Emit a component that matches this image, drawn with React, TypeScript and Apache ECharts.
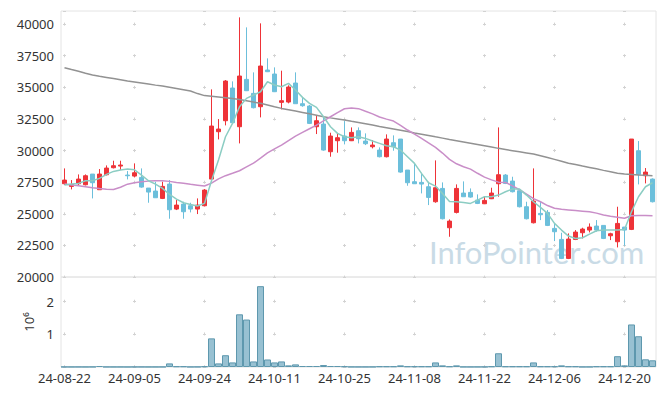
import React, { useEffect, useRef } from "react";
import * as echarts from "echarts";

const dates = [
  "24-08-22","24-08-23","24-08-26","24-08-27","24-08-28","24-08-29","24-08-30",
  "24-09-02","24-09-03","24-09-04","24-09-05","24-09-06","24-09-09","24-09-10","24-09-11","24-09-12","24-09-13",
  "24-09-19","24-09-20","24-09-23","24-09-24","24-09-25","24-09-26","24-09-27","24-09-30",
  "24-10-02","24-10-04","24-10-07","24-10-08","24-10-10","24-10-11","24-10-14","24-10-15","24-10-16","24-10-17","24-10-18",
  "24-10-21","24-10-22","24-10-23","24-10-24","24-10-25","24-10-28","24-10-29","24-10-30","24-10-31",
  "24-11-01","24-11-04","24-11-05","24-11-06","24-11-07","24-11-08","24-11-11","24-11-12","24-11-13","24-11-14","24-11-15",
  "24-11-18","24-11-19","24-11-20","24-11-21","24-11-22","24-11-25","24-11-26","24-11-27","24-11-28","24-11-29",
  "24-12-02","24-12-03","24-12-04","24-12-05","24-12-06","24-12-09","24-12-10","24-12-11","24-12-12","24-12-13",
  "24-12-16","24-12-17","24-12-18","24-12-19","24-12-20","24-12-23","24-12-24","24-12-26","24-12-27",
];

const opens = [
  27373,27163,27373,27294,28138,26899,28085,28639,28770,28059,27980,27874,27031,26794,26214,27347,25370,25765,25634,25370,
  25634,27742,31486,32355,34939,31881,35624,34517,33463,36362,36046,33806,33832,35334,33700,33516,31881,32092,29904,30774,
  31143,30774,31565,30748,30300,30036,29509,30616,30906,28454,27532,27479,27136,25950,27004,23894,25107,26635,26688,26082,
  25792,26187,27373,28059,27584,26820,25555,24289,25027,25107,23842,22972,21469,22972,23499,23710,24026,24079,23261,22787,
  23947,23763,29983,28006,27742,
];
const closes = [
  27663,27321,27742,28006,27453,28138,28613,28797,28850,28006,28244,27110,26715,26266,27163,25317,25686,25159,25370,25686,
  26873,31934,31697,35493,32197,35888,34728,33384,36678,36230,34649,33937,35018,33700,33542,32145,32355,30036,31143,31011,
  30774,31433,30932,30537,30431,29509,30906,30300,28296,27453,27373,27347,26293,27057,24606,24421,27004,26345,26319,25818,
  26056,26635,28085,27400,26741,25555,24606,26003,24922,24079,23578,21469,23000,23551,23789,23947,23710,23050,23420,24237,
  23710,30906,28111,28296,25950,
];
const lows = [
  27270,26926,27268,27240,26213,26899,28032,28586,28454,27717,27874,27057,25871,26266,26161,24606,25291,24606,25107,24975,
  25581,27663,30879,31987,32144,30563,34702,33331,32619,36204,34623,33252,33727,33700,33463,32092,31301,29983,29509,29825,
  30484,30748,30563,30431,30168,29456,29456,29983,28243,27215,27373,26609,25687,25871,24554,23182,25027,26345,26266,25765,
  25765,26161,26345,27347,26688,25502,24554,24237,24500,24026,22840,21416,21416,22919,23050,23525,23578,22998,22919,22339,
  22471,23710,27321,27400,25897,
];
const highs = [
  28586,27663,28111,28111,28138,28533,28823,29192,29192,28375,28982,28586,27031,27532,27532,27663,26082,25950,25870,26214,
  26952,34833,32487,35571,35466,40527,39736,36178,40053,37285,36573,36310,35150,36178,34148,33595,32724,32672,31406,31354,
  32329,31828,31828,31354,30827,30247,31275,31196,30906,28454,28981,28190,27532,29219,27479,24554,27321,27558,27004,26530,
  26345,27057,31828,28138,27927,26820,25950,28586,25950,25291,24237,23499,23446,23710,23894,24237,24500,24079,23499,25555,
  23947,30906,30748,28613,27795,
];
const volumes = [
  4000,3000,4000,3000,5000,30000,4000,3000,3000,2000,4000,4000,3000,3000,4000,110000,20000,20000,4000,6000,
  20000,875000,110000,360000,140000,1610000,1450000,170000,2470000,230000,140000,170000,50000,80000,30000,30000,30000,60000,30000,30000,
  20000,5000,4000,4000,5000,20000,20000,20000,50000,20000,20000,20000,20000,140000,50000,20000,50000,5000,4000,5000,
  6000,20000,420000,20000,20000,20000,20000,140000,20000,20000,20000,50000,20000,20000,4000,5000,20000,20000,20000,330000,
  50000,1300000,940000,235000,205000,
];
const ma5 = [
  27268,27347,27400,27610,27610,27795,28111,28349,28454,28533,28480,28059,27610,27347,27004,26530,26161,25871,25739,25608,
  25818,27610,29245,31090,32145,33463,34122,34385,34649,35440,35176,35044,35308,34781,34201,33726,33410,32672,31881,31354,
  31090,31011,31090,30958,30748,30563,30379,30300,30036,29509,28982,28190,27452,27189,26609,25976,25950,25897,25818,26082,
  26345,26345,26477,26741,26952,26952,26477,25950,25502,25027,24237,23710,23235,23050,23103,23393,23657,23710,23710,23710,
  23762,25159,26345,27136,27452,
];
const ma20 = [
  27350,27280,27215,27140,27060,26990,26930,26920,27100,27340,27450,27530,27580,27600,27610,27560,27480,27420,27330,27260,
  27190,27420,27760,28010,28200,28400,28700,29000,29400,29820,30130,30430,30790,31140,31430,31720,32010,32340,32670,32990,
  33300,33360,33310,33100,32900,32650,32480,32330,31980,31620,31300,30960,30600,30250,29800,29300,28950,28720,28530,28200,
  27900,27680,27500,27480,27200,26900,26550,26200,25950,25650,25430,25350,25300,25250,25200,25150,25050,24900,24800,24720,
  24640,24840,24860,24870,24840,
];
const ma120 = [
  36550,36400,36260,36110,35970,35870,35780,35690,35590,35490,35410,35330,35250,35170,35100,35000,34900,34800,34700,34500,
  34340,34290,34240,34180,34110,34040,33940,33830,33730,33600,33460,33330,33230,33120,33010,32900,32790,32670,32580,32500,
  32410,32310,32220,32120,32010,31900,31800,31700,31600,31500,31390,31290,31190,31080,30980,30870,30770,30670,30570,30470,
  30370,30270,30170,30080,29990,29900,29810,29720,29580,29440,29300,29150,29000,28890,28770,28660,28550,28430,28320,28200,
  28150,28110,28070,28040,28010,
];

const UP = "#ee3338";
const DOWN = "#6cbfdb";
const FONT = "Noto Sans";
const LABEL = "#333333";
const PLUS = "#d2d2d2";

export default function App() {
  const ref = useRef<HTMLDivElement>(null);
  useEffect(() => {
    document.body.style.margin = "0";
    if (!ref.current) return;
    const chart = echarts.init(ref.current, null, { renderer: "svg" });
    const ohlc = dates.map((_, i) => [opens[i], closes[i], lows[i], highs[i]]);
    const priceMin = 20000;
    const priceMax = 41030;
    const volMax = 2750000;
    const g0Top = 11, g0H = 266, g1Top = 277, g1H = 90;
    const pricePeriod = (g0H / (priceMax - priceMin)) * 2500;
    const p40 = ((priceMax - 40000) / (priceMax - priceMin)) * g0H;
    const volPeriod = (g1H / volMax) * 1e6;
    const p2m = ((volMax - 2e6) / volMax) * g1H;
    const option: any = {
      animation: false,
      backgroundColor: "#ffffff",
      textStyle: { fontFamily: FONT },
      grid: [
        { left: 61, right: 9, top: g0Top, height: g0H, show: true, borderColor: "#e4e4e4", borderWidth: 1 },
        { left: 61, right: 9, top: g1Top, height: g1H, show: true, borderColor: "#e4e4e4", borderWidth: 1 },
      ],
      xAxis: [
        {
          type: "category", data: dates, gridIndex: 0, boundaryGap: true,
          axisLine: { show: false }, axisTick: { show: false }, axisLabel: { show: false },
          splitLine: {
            show: true, interval: 9, alignWithLabel: true,
            lineStyle: { color: PLUS, width: 1, type: [3, pricePeriod - 3], dashOffset: pricePeriod - (p40 - 1.5) },
          },
        },
        {
          type: "category", data: dates, gridIndex: 1, boundaryGap: true,
          axisLine: { show: false }, axisTick: { show: false },
          axisLabel: { interval: 9, color: LABEL, fontSize: 13, margin: 4, fontFamily: FONT },
          splitLine: {
            show: true, interval: 9, alignWithLabel: true,
            lineStyle: { color: PLUS, width: 1, type: [3, volPeriod - 3], dashOffset: volPeriod - (p2m - 1.5) },
          },
        },
      ],
      yAxis: [
        {
          type: "value", gridIndex: 0, min: priceMin, max: priceMax, interval: 2500,
          axisLine: { show: false }, axisTick: { show: false },
          axisLabel: {
            color: LABEL, fontSize: 13, margin: 7, showMaxLabel: false, fontFamily: FONT,
            formatter: (v: number) => String(v),
          },
          splitLine: { show: true, lineStyle: { color: PLUS, width: 1, type: [3, 67], dashOffset: 68 } },
        },
        {
          type: "value", gridIndex: 1, min: 0, max: volMax, interval: 1000000,
          name: "10⁶", nameLocation: "middle", nameGap: 21, nameRotate: 90,
          nameTextStyle: { color: LABEL, fontSize: 13, fontFamily: FONT },
          axisLine: { show: false }, axisTick: { show: false },
          axisLabel: {
            color: LABEL, fontSize: 13, margin: 7, showMaxLabel: false, fontFamily: FONT,
            formatter: (v: number) => (v === 0 ? "" : String(v / 1e6)),
          },
          splitLine: { show: true, lineStyle: { color: PLUS, width: 1, type: [3, 67], dashOffset: 68 } },
        },
      ],
      graphic: [
        {
          type: "text", left: 429, top: 236, z: 0, silent: true,
          style: { text: "InfoPointer.com", fill: "#c9dbe6", font: "31px Lato" },
        },
      ],
      series: [
        {
          type: "candlestick", xAxisIndex: 0, yAxisIndex: 0, data: ohlc, barWidth: 5,
          itemStyle: { color: UP, color0: DOWN, borderColor: UP, borderColor0: DOWN, borderWidth: 1 },
        },
        {
          type: "line", xAxisIndex: 0, yAxisIndex: 0, data: ma120, symbol: "none",
          lineStyle: { color: "#929292", width: 1.5 },
        },
        {
          type: "line", xAxisIndex: 0, yAxisIndex: 0, data: ma20, symbol: "none",
          lineStyle: { color: "#c98ec8", width: 1.5 },
        },
        {
          type: "line", xAxisIndex: 0, yAxisIndex: 0, data: ma5, symbol: "none",
          lineStyle: { color: "#8ccdc3", width: 1.5 },
        },
        {
          type: "bar", xAxisIndex: 1, yAxisIndex: 1, data: volumes, barCategoryGap: "0%",
          itemStyle: { color: "#98c1d2", borderColor: "#5e98ae", borderWidth: 1 },
        },
      ],
    };
    chart.setOption(option);
    return () => chart.dispose();
  }, []);
  return <div ref={ref} style={{ width: 665, height: 396 }} />;
}
